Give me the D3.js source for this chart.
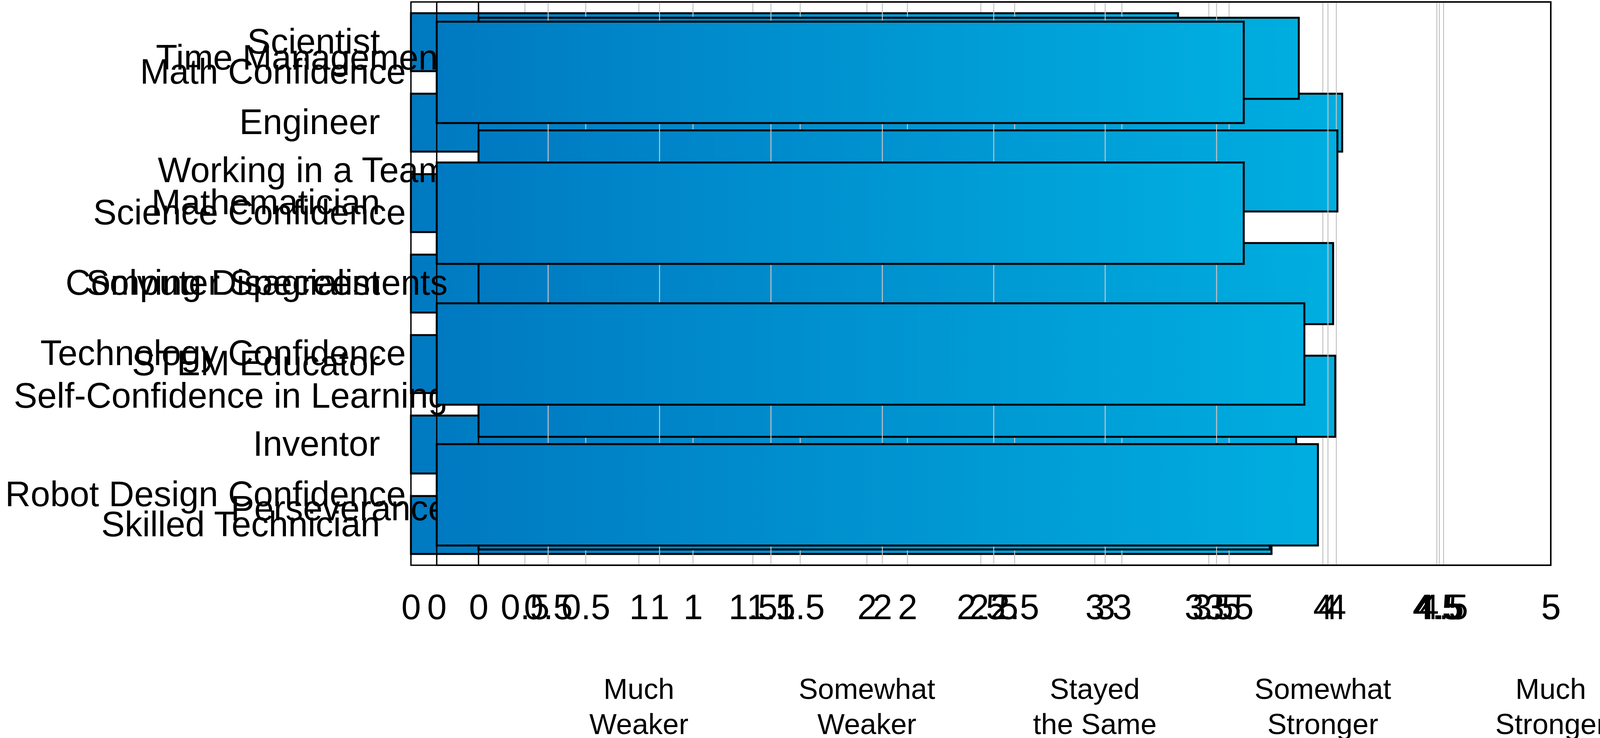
<!DOCTYPE html>
<html>
<head>
<meta charset="utf-8">
<script src="https://cdn.jsdelivr.net/npm/d3@7"></script>
<style>
  html, body { margin: 0; padding: 0; background: #fff; }
  svg { display: block; }
</style>
</head>
<body>
<svg id="chart" width="4127" height="1888"></svg>
<script>
// ---- data ----
const careerCategories = ["Scientist", "Engineer", "Mathematician", "Computer Specialist", "STEM Educator", "Inventor", "Skilled Technician"];
const careerValues = [3.365, 4.085, 3.4, 3.7, 3.6, 3.883, 3.775];

const skillCategories = ["Time Management", "Working in a Team", "Solving Disagreements", "Self-Confidence in Learning", "Perseverance"];
const skillValues = [3.825, 4.005, 3.985, 3.995, 3.69];

const confidenceCategories = ["Math Confidence", "Science Confidence", "Technology Confidence", "Robot Design Confidence"];
const confidenceValues = [3.622, 3.622, 3.894, 3.955];

const tickValues = [0, 0.5, 1, 1.5, 2, 2.5, 3, 3.5, 4, 4.5, 5];
const scaleLabels = [["Much", "Weaker"], ["Somewhat", "Weaker"], ["Stayed", "the Same"], ["Somewhat", "Stronger"], ["Much", "Stronger"]];
const scaleLabelValues = [1, 2, 3, 4, 5];

// ---- layout ----
const FONT = "'Liberation Sans', Arial, Helvetica, sans-serif";
const plotTop = 5, plotBottom = 1446, plotRight = 3970;
const svg = d3.select("#chart");

const defs = svg.append("defs");
const grad = defs.append("linearGradient").attr("id", "barGrad")
  .attr("x1", "0").attr("x2", "1").attr("y1", "0").attr("y2", "0");
grad.append("stop").attr("offset", "0%").attr("stop-color", "#0079c1");
grad.append("stop").attr("offset", "100%").attr("stop-color", "#00aee0");

function drawPanel(cats, vals, left) {
  const g = svg.append("g");
  const x = d3.scaleLinear().domain([0, 5]).range([left, plotRight]);
  const y = d3.scaleBand().domain(cats).range([plotTop, plotBottom])
    .paddingInner(0.28).paddingOuter(0.14);

  // grid
  g.append("g").selectAll("line").data(tickValues).join("line")
    .attr("x1", d => x(d)).attr("x2", d => x(d))
    .attr("y1", plotTop).attr("y2", plotBottom)
    .attr("stroke", "#c4c4c4").attr("stroke-width", 2.5);

  // frame
  g.append("rect")
    .attr("x", left).attr("y", plotTop)
    .attr("width", plotRight - left).attr("height", plotBottom - plotTop)
    .attr("fill", "none").attr("stroke", "#000").attr("stroke-width", 3.5);

  // bars
  g.append("g").selectAll("rect").data(cats).join("rect")
    .attr("x", x(0))
    .attr("y", d => y(d))
    .attr("width", (d, i) => x(vals[i]) - x(0))
    .attr("height", y.bandwidth())
    .attr("fill", "url(#barGrad)")
    .attr("stroke", "#000").attr("stroke-width", 5);

  // y axis labels
  const ya = g.append("g").attr("transform", `translate(${left},0)`)
    .call(d3.axisLeft(y).tickSize(0).tickPadding(79));
  ya.select(".domain").remove();
  ya.selectAll("text").attr("font-family", FONT).attr("font-size", 90).attr("fill", "#000");

  // x axis labels
  const xa = g.append("g").attr("transform", `translate(0,${plotBottom})`)
    .call(d3.axisBottom(x).tickValues(tickValues).tickFormat(d3.format("~g")).tickSize(0).tickPadding(74));
  xa.select(".domain").remove();
  xa.selectAll("text").attr("font-family", FONT).attr("font-size", 90).attr("fill", "#000");
  return x;
}

const xCareer = drawPanel(careerCategories, careerValues, 1052);
drawPanel(skillCategories, skillValues, 1225);
drawPanel(confidenceCategories, confidenceValues, 1118);

// response-scale labels
const lg = svg.append("g");
const lt = lg.selectAll("text").data(scaleLabels).join("text")
  .attr("text-anchor", "middle")
  .attr("font-family", FONT).attr("font-size", 74).attr("fill", "#000");
lt.append("tspan").attr("x", (d, i) => xCareer(scaleLabelValues[i])).attr("y", 1788).text(d => d[0]);
lt.append("tspan").attr("x", (d, i) => xCareer(scaleLabelValues[i])).attr("y", 1878).text(d => d[1]);
</script>
</body>
</html>
